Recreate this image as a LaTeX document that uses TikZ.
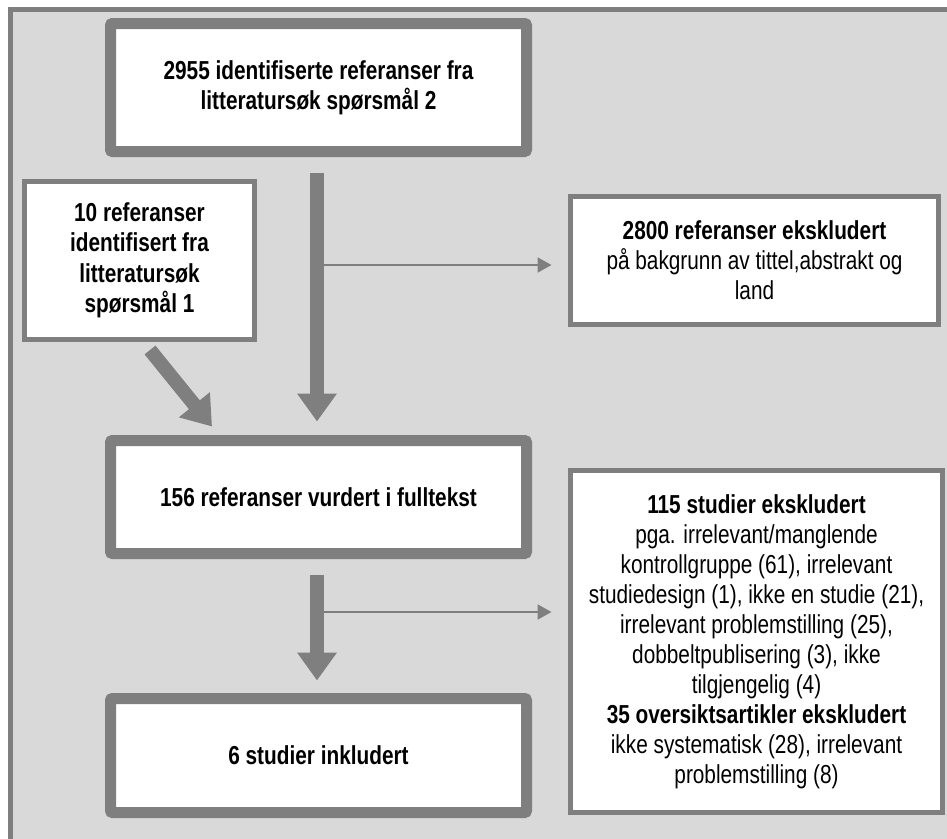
\documentclass[tikz,border=0pt]{standalone}
\usepackage{fontspec}
\setmainfont[FakeStretch=0.80]{Liberation Sans}
\usetikzlibrary{arrows.meta}
\definecolor{framegray}{HTML}{7F7F7F}
\definecolor{bggray}{HTML}{D9D9D9}
\begin{document}
\begin{tikzpicture}[x=1pt,y=-1pt,
  txt/.style={align=center, font=\fontsize{26}{30}\selectfont, inner sep=0pt},
  bigbox/.style={txt, draw=framegray, line width=11pt, fill=white, rounded corners=2pt, font=\fontsize{26}{30}\selectfont\bfseries},
  smallbox/.style={txt, draw=framegray, line width=5pt, fill=white},
  bigarrow/.style={draw=framegray, line width=14pt, -{Triangle[width=38pt,length=28pt]}},
  thinarrow/.style={draw=framegray, line width=2pt, -{Triangle[width=15pt,length=14pt]}},
]
\useasboundingbox (0,0) rectangle (947,838);
\fill[white] (0,0) rectangle (947,838);
\begin{scope}
  \clip (0,0) rectangle (947,838);
  \draw[framegray, line width=5pt, fill=bggray] (10.5,9.5) rectangle (975,865);
\end{scope}

\node[bigbox, minimum width=416pt, minimum height=128pt] (A) at (318.5,87.5)
  {2955 identifiserte referanser fra\\litteratursøk spørsmål 2};
\node[smallbox, font=\fontsize{26}{30.5}\selectfont\bfseries, minimum width=230pt, minimum height=158pt] (B) at (139.5,260.5)
  {10 referanser\\identifisert fra\\litteratursøk\\spørsmål 1};
\node[smallbox, minimum width=368pt, minimum height=128pt] (D) at (754.5,260.5)
  {\textbf{2800 referanser ekskludert}\\på bakgrunn av tittel,abstrakt og\\land};
\node[bigbox, minimum width=416pt, minimum height=113pt] (C) at (318.5,497)
  {156 referanser vurdert i fulltekst};
\node[smallbox, minimum width=372pt, minimum height=342pt] (E) at (756.5,641.5)
  {\textbf{115 studier ekskludert}\\pga. irrelevant/manglende\\kontrollgruppe (61), irrelevant\\studiedesign (1), ikke en studie (21),\\irrelevant problemstilling (25),\\dobbeltpublisering (3), ikke\\tilgjengelig (4)\\\textbf{35 oversiktsartikler ekskludert}\\ikke systematisk (28), irrelevant\\problemstilling (8)};
\node[bigbox, minimum width=416pt, minimum height=114pt] (F) at (318.5,755.5)
  {6 studier inkludert};

\coordinate (j1) at (317,265);
\coordinate (j2) at (317,612);
\draw[thinarrow, shorten >=16.5pt] (j1) -- (D.west |- j1);
\draw[thinarrow, shorten >=16.5pt] (j2) -- (E.west |- j2);

\draw[bigarrow, shorten <=15.5pt, shorten >=13.5pt] ([xshift=-1.5pt]A.south) -- ([xshift=-1.5pt]C.north);
\draw[bigarrow, shorten <=15.5pt, shorten >=12.5pt] ([xshift=-1.5pt]C.south) -- ([xshift=-1.5pt]F.north);
\draw[bigarrow] ([xshift=10.5pt,yshift=-8pt]B.south) -- ([xshift=-106.5pt,yshift=8.5pt]C.north);
\end{tikzpicture}
\end{document}
